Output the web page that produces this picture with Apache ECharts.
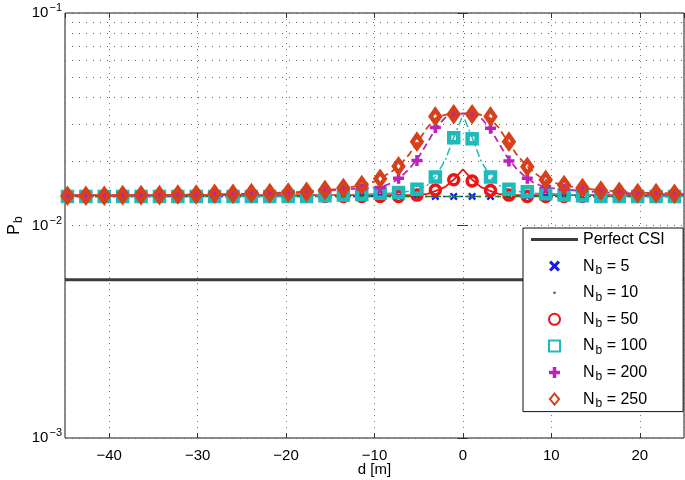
<!DOCTYPE html>
<html>
<head>
<meta charset="utf-8">
<script src="https://cdn.jsdelivr.net/npm/echarts@6/dist/echarts.min.js"></script>
<style>html,body{margin:0;padding:0;background:#fff}#c{width:685px;height:480px}</style>
</head>
<body>
<div id="c"></div>
<script>
// ---- data ----
const dPts = [-44.72, -42.64, -40.56, -38.48, -36.40, -34.32, -32.24, -30.16, -28.08, -26.00, -23.92, -21.84, -19.76, -17.68, -15.60, -13.52, -11.44, -9.36, -7.28, -5.20, -3.12, -1.04, 1.04, 3.12, 5.20, 7.28, 9.36, 11.44, 13.52, 15.60, 17.68, 19.76, 21.84, 23.92];
const nb5   = [0.0137,0.0137,0.0137,0.0137,0.0137,0.0137,0.0137,0.0137,0.0137,0.0137,0.0137,0.0137,0.0137,0.0137,0.0137,0.0137,0.0137,0.0137,0.0137,0.0137,0.0137,0.0137,0.0137,0.0137,0.0137,0.0137,0.0137,0.0137,0.0137,0.0137,0.0137,0.0137,0.0137,0.0137];
const nb10  = [0.0137,0.0137,0.0137,0.0137,0.0137,0.0137,0.0137,0.0137,0.0137,0.0137,0.0137,0.0137,0.0137,0.0137,0.0137,0.0137,0.0137,0.0137,0.0137,0.0137,0.0137,0.0137,0.0137,0.0137,0.0137,0.0137,0.0137,0.0137,0.0137,0.0137,0.0137,0.0137,0.0137,0.0137];
const nb50  = [0.0137,0.0137,0.0137,0.0137,0.0137,0.0137,0.0137,0.0137,0.0137,0.0137,0.0137,0.0137,0.0137,0.0137,0.0137,0.0137,0.0137,0.0137,0.0137,0.0139,0.0147,0.0164,0.0162,0.0146,0.0139,0.0137,0.0137,0.0137,0.0137,0.0137,0.0137,0.0137,0.0137,0.0137];
const nb100 = [0.0137,0.0137,0.0137,0.0137,0.0137,0.0137,0.0137,0.0137,0.0137,0.0137,0.0137,0.0137,0.0137,0.0137,0.0138,0.0139,0.0140,0.0142,0.0143,0.0148,0.0169,0.0259,0.0256,0.0169,0.0148,0.0144,0.0141,0.0139,0.0138,0.0137,0.0137,0.0137,0.0137,0.0137];
const nb200 = [0.0138,0.0138,0.0138,0.0138,0.0138,0.0139,0.0139,0.0140,0.0140,0.0141,0.0141,0.0142,0.0142,0.0143,0.0145,0.0148,0.0149,0.0151,0.0167,0.0202,0.0289,0.0334,0.0334,0.0287,0.0201,0.0167,0.0152,0.0148,0.0146,0.0144,0.0143,0.0142,0.0141,0.0141];
const nb250 = [0.0138,0.0138,0.0138,0.0139,0.0139,0.0139,0.0140,0.0140,0.0141,0.0141,0.0142,0.0142,0.0143,0.0144,0.0147,0.0150,0.0155,0.0166,0.0190,0.0248,0.0326,0.0334,0.0334,0.0326,0.0248,0.0189,0.0164,0.0155,0.0150,0.0146,0.0144,0.0142,0.0142,0.0141];

const lineD = [-45,-40,-35,-30,-25,-20,-18,-16,-14,-12,-10,-9,-8,-7,-6,-5,-4,-3,-2,-1,0,1,2,3,4,5,6,7,8,9,10,12,14,16,18,20,25];
const th50  = [0.0139,0.0139,0.0139,0.0139,0.0139,0.0139,0.0139,0.0139,0.0139,0.0139,0.0139,0.0139,0.0139,0.0139,0.0139,0.0139,0.0141,0.0146,0.0152,0.0165,0.0184,0.0165,0.0152,0.0146,0.0141,0.0139,0.0139,0.0139,0.0139,0.0139,0.0139,0.0139,0.0139,0.0139,0.0139,0.0139,0.0139];
const th100 = [0.0137,0.0137,0.0137,0.0137,0.0137,0.0137,0.0138,0.0138,0.0139,0.0140,0.0141,0.0142,0.0142,0.0143,0.0145,0.0148,0.0155,0.0172,0.0203,0.0262,0.0331,0.0262,0.0203,0.0172,0.0155,0.0148,0.0145,0.0143,0.0142,0.0141,0.0141,0.0140,0.0139,0.0138,0.0138,0.0137,0.0137];
const th200 = [0.0138,0.0138,0.0138,0.0139,0.0140,0.0142,0.0143,0.0145,0.0147,0.0149,0.0151,0.0153,0.0159,0.0170,0.0186,0.0210,0.0246,0.0290,0.0322,0.0335,0.0337,0.0335,0.0322,0.0290,0.0246,0.0210,0.0186,0.0170,0.0159,0.0153,0.0150,0.0147,0.0145,0.0143,0.0142,0.0141,0.0140];
const th250 = [0.0138,0.0138,0.0139,0.0140,0.0141,0.0143,0.0144,0.0146,0.0149,0.0153,0.0161,0.0170,0.0180,0.0195,0.0218,0.0252,0.0290,0.0322,0.0332,0.0335,0.0336,0.0335,0.0332,0.0322,0.0290,0.0252,0.0218,0.0195,0.0178,0.0166,0.0160,0.0153,0.0149,0.0146,0.0144,0.0143,0.0141];

const flatD = [-45, 25];
const th5   = [0.0137, 0.0137];
const th10  = [0.0137, 0.0137];
const csi   = [0.00556, 0.00556];

const xTicks = [-40, -30, -20, -10, 0, 10, 20];
const yMinorGrid = [0.002,0.003,0.004,0.005,0.006,0.007,0.008,0.009,0.02,0.03,0.04,0.05,0.06,0.07,0.08,0.09];

// ---- chart ----
const pair = (xs, ys) => xs.map((x, i) => [x, ys[i]]);
const FONT = '"Liberation Sans", Arial, Helvetica, sans-serif';
const C = {csi:'#3c3c3c', n5:'#1a1ae6', n10:'#138a13', n50:'#ee1414', n100:'#1fbaba', n200:'#bb22bb', n250:'#d6401a'};
const PLUS = 'path://M3.4,0H6.6V3.4H10V6.6H6.6V10H3.4V6.6H0V3.4H3.4Z';
const XSYM = 'path://M0,2L2,0L5,3L8,0L10,2L7,5L10,8L8,10L5,7L2,10L0,8L3,5Z';
const SQUARE = 'path://M0,0H10V10H0Z';
const DIAM = 'path://M5,0L10,6L5,12L0,6Z';
const CIRC = 'path://M10,5A5,5,0,1,1,0,5A5,5,0,1,1,10,5Z';
const LINEICON = 'path://M0,0H47V3.2H0Z';
const DOTICON = 'path://M0,0M10,10M6.2,5A1.2,1.2,0,1,1,3.8,5A1.2,1.2,0,1,1,6.2,5Z';

function thLine(name, xs, ys, color, type, width) {
  return {name, type:'line', data: pair(xs, ys), showSymbol:false, symbol:'none', silent:true,
    lineStyle:{color, width: width || 1.5, type}, z: 2, animation:false};
}
function sc(name, ys, color, symbol, size, fillColor, borderW) {
  return {name, type:'scatter', data: pair(dPts, ys), symbol, symbolSize: size, symbolKeepAspect:true,
    itemStyle:{color: fillColor, borderColor: color, borderWidth: borderW, opacity:1}, z: 3, animation:false};
}

const chart = echarts.init(document.getElementById('c'), null, {renderer:'canvas'});
const option = {
  animation: false,
  backgroundColor: '#fff',
  grid: {left: 65, right: 1, top: 13, bottom: 42, containLabel:false, outerBoundsMode:'none',
    show: true, borderColor: '#1a1a1a', borderWidth: 1, backgroundColor:'transparent'},
  xAxis: [{
    type:'value', min:-45, max:25, splitNumber:7,
    name:'d [m]', nameLocation:'middle', nameGap: 24, nameMoveOverlap:false,
    nameTextStyle:{fontFamily:FONT, fontSize:15, color:'#000'},
    axisLine:{show:false},
    axisTick:{show:true, inside:true, length:5, lineStyle:{color:'#333'}},
    axisLabel:{fontFamily:FONT, fontSize:15, color:'#000', margin:10, showMinLabel:false, showMaxLabel:false,
      formatter: v => xTicks.includes(v) ? String(v).replace('-', '\u2212') : ''},
    splitLine:{show:true, lineStyle:{color:'#777', width:1, type:[1,5]}}
  }, {
    type:'value', min:-45, max:25, splitNumber:7, position:'top',
    axisLine:{show:false}, axisLabel:{show:false}, splitLine:{show:false},
    axisTick:{show:true, inside:true, length:5, lineStyle:{color:'#333'}}
  }],
  yAxis: [{
    type:'log', logBase:10, min:0.001, max:0.1,
    name:'P{sub|b}', nameLocation:'middle', nameGap: 40, nameRotate: 90, nameMoveOverlap:false,
    nameTextStyle:{fontFamily:FONT, fontSize:16, color:'#000',
      rich:{sub:{fontFamily:FONT, fontSize:12, color:'#000', padding:[9,0,0,1]}}},
    axisLine:{show:false},
    axisTick:{show:true, inside:true, length:5, lineStyle:{color:'#333'}},
    axisLabel:{fontFamily:FONT, fontSize:15, color:'#000', margin:3,
      formatter: v => { const e = Math.round(Math.log10(v)); return '10{sup|' + (e < 0 ? '\u2212' : '') + Math.abs(e) + '}'; },
      rich:{sup:{fontFamily:FONT, fontSize:11, color:'#000', padding:[0,0,10,1]}}},
    splitLine:{show:true, lineStyle:{color:'#666', width:1, type:[1,6]}}
  }, {
    type:'log', logBase:10, min:0.001, max:0.1, position:'right',
    axisLine:{show:false}, axisLabel:{show:false}, splitLine:{show:false},
    axisTick:{show:true, inside:true, length:5, lineStyle:{color:'#333'}}
  }],
  legend: {
    orient:'vertical', left: 523, top: 228, width: 140,
    backgroundColor:'#fff', borderColor:'#111', borderWidth:1, padding:[2, 14, 2, 8],
    itemGap: 6.6, itemWidth: 47, itemHeight: 11, selectedMode:false, symbolKeepAspect:true,
    data:[{name:'Perfect CSI', icon: LINEICON, itemStyle:{color:C.csi, borderWidth:0}},
      'Nb = 5', {name:'Nb = 10', icon: DOTICON}, 'Nb = 50','Nb = 100','Nb = 200','Nb = 250'],
    formatter: n => n.indexOf('Nb') === 0 ? 'N{sub|b}' + n.slice(2) : n + '{sub| }',
    textStyle:{fontFamily:FONT, fontSize:16, color:'#000', lineHeight:19,
      rich:{sub:{fontFamily:FONT, fontSize:12, color:'#000', padding:[9,0,0,1]}}}
  },
  series: [
    {name:'Perfect CSI', type:'line', data: pair(flatD, csi), showSymbol:false, symbol:'none', silent:true,
      lineStyle:{color:C.csi, width:3}, itemStyle:{color:C.csi}, z:1,
      markLine:{silent:true, symbol:'none', label:{show:false}, animation:false,
        lineStyle:{color:'#666', width:1, type:[1,6]},
        data: yMinorGrid.map(v => ({yAxis: v}))}},
    thLine('t5', flatD, th5, C.n5, [2,4], 1.5),
    thLine('t10', flatD, th10, C.n10, [6,4], 1.5),
    thLine('t50', lineD, th50, C.n50, 'solid', 1.8),
    thLine('t100', lineD, th100, C.n100, [8,3,2,3], 1.5),
    thLine('t200', lineD, th200, C.n200, [7,4], 1.8),
    thLine('t250', lineD, th250, C.n250, [7,4], 1.8),
    sc('Nb = 5', nb5, C.n5, XSYM, 8, C.n5, 0),
    sc('Nb = 10', nb10, C.n10, CIRC, 3, C.n10, 0),
    sc('Nb = 50', nb50, C.n50, CIRC, 10, 'rgba(255,255,255,0)', 3.5),
    sc('Nb = 100', nb100, C.n100, SQUARE, 9, 'rgba(255,255,255,0)', 4.5),
    sc('Nb = 200', nb200, C.n200, PLUS, 11, C.n200, 0),
    sc('Nb = 250', nb250, C.n250, DIAM, [11, 13], 'rgba(255,255,255,0)', 4.5)
  ]
};
chart.setOption(option);
</script>
</body>
</html>
